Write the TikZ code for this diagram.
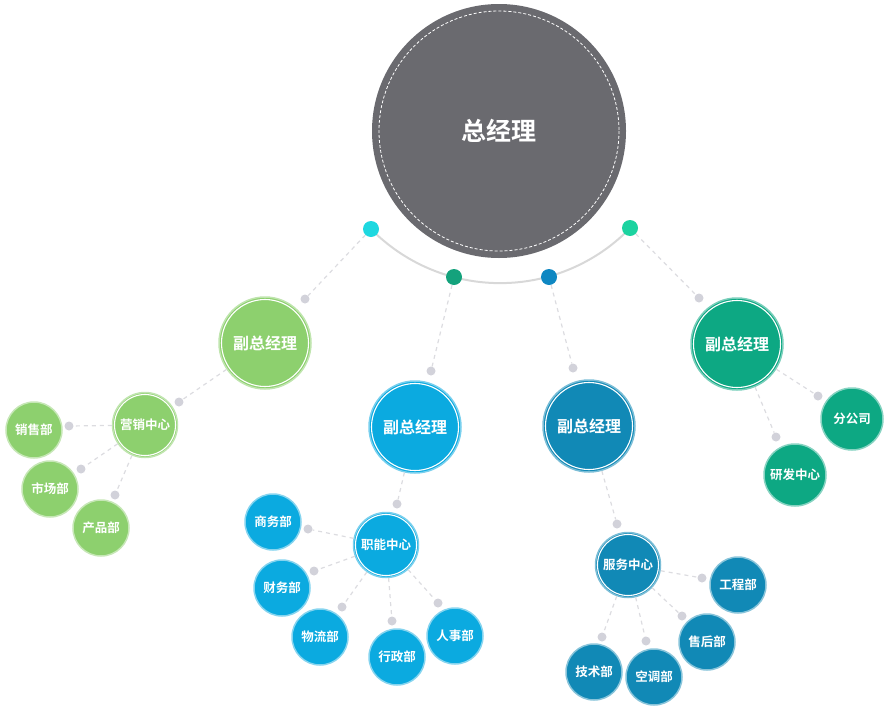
\documentclass[tikz,border=0pt]{standalone}
\usepackage{fontspec}
\newfontfamily\cjk{Noto Sans CJK SC}[BoldFont=* Bold]
\begin{document}
\definecolor{cmain}{HTML}{6A6A6F}
\definecolor{cgreen}{HTML}{8DD06E}
\definecolor{cblue}{HTML}{0BAAE0}
\definecolor{cdblue}{HTML}{1189B6}
\definecolor{cteal}{HTML}{0DA883}
\definecolor{ccyan}{HTML}{1ED8E0}
\definecolor{cdot2}{HTML}{14A27C}
\definecolor{cdot3}{HTML}{0E87C2}
\definecolor{cmint}{HTML}{1CD3A0}
\definecolor{cgdot}{HTML}{D2D2DA}
\definecolor{cline}{HTML}{DCDCE0}
\definecolor{carc}{HTML}{D8D8D8}
\begin{tikzpicture}[x=1pt,y=-1pt,
  font=\cjk\bfseries,
  ring/.style={path picture={\draw[white,line width=1.1pt] (path picture bounding box.center) circle[radius=#1];}},
  vp/.style={circle,inner sep=0pt,minimum size=92pt,fill=#1,draw=#1!55!white,line width=1.5pt,
    ring=43.5pt,text=white,font=\cjk\bfseries\fontsize{16}{18}\selectfont},
  hub/.style={circle,inner sep=0pt,minimum size=65pt,fill=#1,draw=#1!55!white,line width=1.5pt,
    ring=30.5pt,text=white,font=\cjk\bfseries\fontsize{12.5}{14}\selectfont},
  leaf/.style={circle,inner sep=0pt,minimum size=56pt,fill=#1,draw=#1!50!white,line width=1.5pt,
    text=white,font=\cjk\bfseries\fontsize{12.5}{14}\selectfont},
  bigleaf/.style={leaf=#1,minimum size=62pt},
  gdot/.style={circle,inner sep=0pt,minimum size=9pt,fill=cgdot},
  cdot/.style={circle,inner sep=0pt,minimum size=16pt,fill=#1},
  conn/.style={draw=cline,line width=1.2pt,dash pattern=on 4pt off 4pt},
]
\useasboundingbox (0,0) rectangle (889,707);
% main
\node[circle,inner sep=0pt,minimum size=254pt,fill=cmain,text=white,
  font=\cjk\bfseries\fontsize{25}{28}\selectfont] (gm) at (499,131) {总经理};
\draw[white,line width=0.8pt,dash pattern=on 3pt off 2pt] (gm.center) circle[radius=120];
% arc
\coordinate (arcc) at (500,102);
\draw[carc,line width=2pt] (371,229) arc[start angle=135.5,end angle=44,radius=181];
\node[cdot=ccyan] (k1) at (371,229) {};
\node[cdot=cdot2] (k2) at (454,277) {};
\node[cdot=cdot3] (k3) at (549,277) {};
\node[cdot=cmint] (k4) at (630,228) {};
% vice managers
\node[vp=cgreen] (v1) at (265,343) {副总经理};
\node[vp=cblue] (v2) at (415,427) {副总经理};
\node[vp=cdblue] (v3) at (589,426) {副总经理};
\node[vp=cteal] (v4) at (737,344) {副总经理};
\node[gdot] (g1) at (305,299) {};
\node[gdot] (g2) at (431,371) {};
\node[gdot] (g3) at (573,368) {};
\node[gdot] (g4) at (699,298) {};
\draw[conn] (k1) -- (g1);
\draw[conn] (k2) -- (g2);
\draw[conn] (k3) -- (g3);
\draw[conn] (k4) -- (g4);
% green branch
\node[hub=cgreen] (h1) at (145,425) {营销中心};
\node[gdot] (gh1) at (179,402) {};
\draw[conn] (v1) -- (gh1);
\node[leaf=cgreen] (a1) at (34,430) {销售部};
\node[leaf=cgreen] (a2) at (50,489) {市场部};
\node[leaf=cgreen] (a3) at (101,528) {产品部};
\node[gdot] (ga1) at (69,426) {};
\node[gdot] (ga2) at (81,469) {};
\node[gdot] (ga3) at (115,495) {};
\draw[conn] (h1) -- (ga1);
\draw[conn] (h1) -- (ga2);
\draw[conn] (h1) -- (ga3);
% blue branch
\node[hub=cblue] (h2) at (386,545) {职能中心};
\node[gdot] (gh2) at (397,504) {};
\draw[conn] (v2) -- (gh2);
\node[leaf=cblue] (b1) at (273,522) {商务部};
\node[leaf=cblue] (b2) at (282,588) {财务部};
\node[leaf=cblue] (b3) at (320,637) {物流部};
\node[leaf=cblue] (b4) at (397,657) {行政部};
\node[leaf=cblue] (b5) at (455,636) {人事部};
\node[gdot] (gb1) at (308,529) {};
\node[gdot] (gb2) at (314,571) {};
\node[gdot] (gb3) at (342,607) {};
\node[gdot] (gb4) at (392,621) {};
\node[gdot] (gb5) at (438,603) {};
\foreach \i in {1,...,5} {\draw[conn] (h2) -- (gb\i);}
% dark blue branch
\node[hub=cdblue] (h3) at (628,565) {服务中心};
\node[gdot] (gh3) at (617,524) {};
\draw[conn] (v3) -- (gh3);
\node[leaf=cdblue] (c1) at (738,585) {工程部};
\node[leaf=cdblue] (c2) at (707,642) {售后部};
\node[leaf=cdblue] (c3) at (594,672) {技术部};
\node[leaf=cdblue] (c4) at (654,677) {空调部};
\node[gdot] (gc1) at (702,578) {};
\node[gdot] (gc2) at (682,616) {};
\node[gdot] (gc3) at (602,637) {};
\node[gdot] (gc4) at (646,641) {};
\foreach \i in {1,...,4} {\draw[conn] (h3) -- (gc\i);}
% teal branch
\node[bigleaf=cteal] (d1) at (852,419) {分公司};
\node[bigleaf=cteal] (d2) at (795,475) {研发中心};
\node[gdot] (gd1) at (818,396) {};
\node[gdot] (gd2) at (776,437) {};
\draw[conn] (v4) -- (gd1);
\draw[conn] (v4) -- (gd2);
\end{tikzpicture}
\end{document}
